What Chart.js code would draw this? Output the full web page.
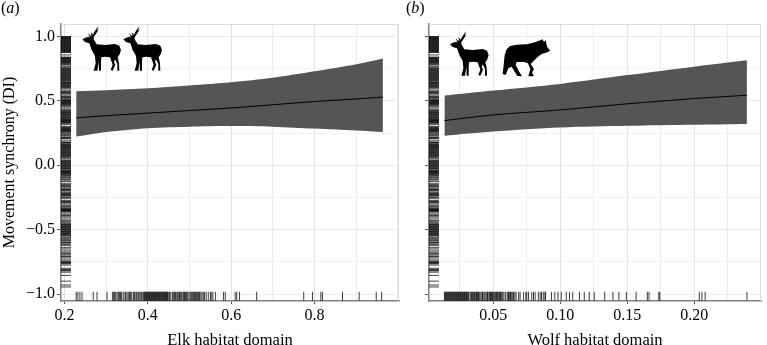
<!DOCTYPE html>
<html>
<head>
<meta charset="utf-8">
<title>Movement synchrony</title>
<script src="https://cdn.jsdelivr.net/npm/chart.js@4"></script>
<style>
    html, body { margin: 0; padding: 0; background: #fff; }
    #page { position: relative; width: 767px; height: 345px; overflow: hidden; }
    canvas { position: absolute; top: 0; }
    #chartA { left: 0; }
    #chartB { left: 405px; }
    .tag { position: absolute; top: -1px; font: 16px "Liberation Serif", serif; color: #000; }
    #icons { position: absolute; left: 0; top: 0; pointer-events: none; }
</style>
</head>
<body>
<div id="page">
    <canvas id="chartA" width="405" height="345"></canvas>
    <canvas id="chartB" width="362" height="345"></canvas>
    <span class="tag" style="left:1px">(<i>a</i>)</span>
    <span class="tag" style="left:406px">(<i>b</i>)</span>
    <svg id="icons" width="767" height="345" viewBox="0 0 767 345" aria-hidden="true">
        <defs>
            <path id="elk" d="M247 118 L256 113 L266 110 L270 112 L263 98 L270 106 L275 108 L272 96 L279 104 L283 96 L295 78 L291 93 L298 86 L286 104 L281 112 L281 118 L290 133 L315 135 L345 132 L358 137 L363 150 L359 163 L353 172 L357 190 L358 212 L352 212 L352 192 L345 178 L342 186 L346 194 L338 212 L332 210 L338 194 L330 172 L315 170 L304 172 L303 190 L303 212 L297 212 L296 185 L292 212 L281 212 L287 190 L285 168 L275 150 L268 130 L255 126 Z"/>
            <path id="wolf" d="M308 222 L311 195 L314 165 L320 148 L330 138 L350 134 L380 133 L405 127 L428 118 L432 127 L437 120 L441 140 L451 152 L438 158 L425 162 L412 172 L398 186 L392 192 L402 207 L396 218 L402 229 L385 229 L391 207 L384 190 L372 186 L350 186 L347 195 L356 212 L366 229 L352 228 L335 200 L325 205 L317 225 Z"/>
        </defs>
        <use href="#elk" transform="scale(0.3333)"/>
        <use href="#elk" transform="translate(41 0) scale(0.3333)"/>
        <use href="#elk" transform="translate(367.7 5) scale(0.3333)"/>
        <use href="#wolf" transform="translate(400 0) scale(0.3333)"/>
    </svg>
</div>
<script>
const yTicks = [1, 0.75, 0.5, 0.25, 0, -0.25, -0.5, -0.75, -1];
const yLabelled = [1, 0.5, 0, -0.5, -1];

const elkTicks = [0.2, 0.3, 0.4, 0.5, 0.6, 0.7, 0.8, 0.9, 1.0];
const elkLabelled = [0.2, 0.4, 0.6, 0.8];
const wolfTicks = [0.025, 0.05, 0.075, 0.1, 0.125, 0.15, 0.175, 0.2, 0.225];
const wolfLabelled = [0.05, 0.1, 0.15, 0.2];

// fitted curve and ribbon
const elkX = [0.228, 0.3, 0.4, 0.5, 0.6, 0.7, 0.8, 0.9, 0.964];
const elkUpper = [0.575, 0.583, 0.598, 0.62, 0.645, 0.68, 0.73, 0.785, 0.83];
const elkLower = [0.223, 0.258, 0.288, 0.3, 0.305, 0.3, 0.285, 0.27, 0.258];
const elkMean = [0.368, 0.385, 0.405, 0.425, 0.445, 0.47, 0.495, 0.515, 0.53];

const wolfX = [0.0135, 0.05, 0.1, 0.15, 0.2, 0.2393];
const wolfUpper = [0.541, 0.58, 0.632, 0.7, 0.766, 0.815];
const wolfLower = [0.229, 0.262, 0.293, 0.306, 0.314, 0.32];
const wolfMean = [0.347, 0.391, 0.43, 0.477, 0.518, 0.544];

// rug values: the DI rug is the same on both panels
const diRug = [
    1, 0.996, 0.992, 0.988, 0.984, 0.98, 0.976, 0.972, 0.968, 0.964, 0.96, 0.956, 0.952, 0.948, 0.944, 0.94,
    0.936, 0.932, 0.928, 0.924, 0.92, 0.916, 0.912, 0.908, 0.904, 0.9, 0.896, 0.892, 0.888, 0.884, 0.88, 0.876,
    0.857, 0.84, 0.836, 0.832, 0.828, 0.824, 0.82, 0.816, 0.812, 0.808, 0.804, 0.8, 0.796, 0.792, 0.786, 0.78, 0.77,
    0.762, 0.755, 0.75, 0.745, 0.74, 0.735, 0.73, 0.725, 0.72, 0.715, 0.71, 0.705,
    0.7, 0.695, 0.69, 0.685, 0.68, 0.675, 0.67, 0.665, 0.66, 0.655, 0.648, 0.644, 0.64, 0.635, 0.63, 0.625, 0.62,
    0.615, 0.61, 0.605, 0.6, 0.592, 0.578, 0.572, 0.566, 0.56, 0.555, 0.545, 0.535, 0.53, 0.525, 0.52,
    0.51, 0.505, 0.502, 0.498, 0.494, 0.49, 0.486, 0.482, 0.478, 0.475, 0.47, 0.465, 0.455, 0.445, 0.435,
    0.425, 0.42, 0.415, 0.41, 0.405, 0.4, 0.395, 0.39, 0.388, 0.38, 0.375, 0.37, 0.365, 0.36, 0.355, 0.352, 0.348,
    0.345, 0.34, 0.336, 0.332, 0.325, 0.315, 0.3, 0.295, 0.29, 0.285, 0.28, 0.278, 0.27, 0.268, 0.262, 0.255, 0.245,
    0.238, 0.23, 0.22, 0.215, 0.21, 0.205, 0.19, 0.18, 0.176, 0.172, 0.165, 0.16, 0.155, 0.15, 0.148, 0.143, 0.14,
    0.135, 0.13, 0.125, 0.12, 0.115, 0.11, 0.105, 0.1, 0.095, 0.09, 0.085, 0.08, 0.075, 0.07, 0.065, 0.058, 0.05,
    0.04, 0.035, 0.03, 0.025, 0.02, 0.015, 0.01, 0.005, 0, -0.005, -0.01, -0.015, -0.02, -0.025, -0.03,
    -0.038, -0.042, -0.046, -0.05, -0.054, -0.058, -0.062, -0.066, -0.072, -0.08, -0.085, -0.093, -0.1, -0.108, -0.115,
    -0.125, -0.14, -0.15, -0.158, -0.165, -0.175, -0.183, -0.188, -0.193, -0.198, -0.208,
    -0.215, -0.22, -0.225, -0.23, -0.235, -0.24, -0.25, -0.26, -0.275, -0.28, -0.285, -0.29, -0.3, -0.31, -0.318, -0.325,
    -0.333, -0.338, -0.342, -0.345, -0.349, -0.352, -0.356, -0.36, -0.37, -0.38, -0.39, -0.4, -0.41, -0.425, -0.432,
    -0.44, -0.448, -0.455, -0.46, -0.465, -0.47, -0.475, -0.48, -0.485, -0.49, -0.495, -0.5, -0.505, -0.51, -0.515,
    -0.52, -0.525, -0.53, -0.535, -0.54, -0.545, -0.55, -0.56, -0.57, -0.578, -0.585, -0.595, -0.6, -0.605, -0.615,
    -0.625, -0.64, -0.65, -0.665, -0.675, -0.685, -0.695, -0.705, -0.71, -0.72,
    -0.735, -0.745, -0.75, -0.755, -0.76, -0.765, -0.775, -0.8, -0.81, -0.815, -0.82, -0.83, -0.855, -0.9, -0.93, -0.945
];

const elkRug = [
    0.228, 0.232, 0.237, 0.242, 0.269, 0.278, 0.302, 0.315, 0.318, 0.32, 0.323, 0.326, 0.329, 0.331, 0.333, 0.335, 0.337,
    0.341, 0.345, 0.347, 0.35, 0.353, 0.356, 0.358, 0.361, 0.365, 0.367, 0.369, 0.372, 0.374, 0.377, 0.379, 0.382, 0.385,
    0.388, 0.39,
    0.392, 0.3935, 0.395, 0.3965, 0.398, 0.3995, 0.401, 0.4025, 0.404, 0.4055, 0.407, 0.4085, 0.41, 0.4115, 0.413,
    0.4145, 0.416, 0.4175, 0.419, 0.4205, 0.422, 0.4235, 0.425, 0.4265, 0.428, 0.4295, 0.431, 0.4325, 0.434, 0.4355,
    0.437, 0.4385, 0.44, 0.4415, 0.443, 0.4445, 0.446,
    0.447, 0.449, 0.452, 0.455, 0.459, 0.461, 0.464, 0.466, 0.468, 0.471, 0.474, 0.476, 0.478, 0.481, 0.484, 0.486, 0.488,
    0.49, 0.492, 0.494, 0.496, 0.499, 0.502, 0.505, 0.507, 0.51, 0.512, 0.514, 0.516, 0.518, 0.52,
    0.522, 0.524, 0.527, 0.53, 0.533, 0.536, 0.54, 0.545, 0.55, 0.552, 0.556, 0.562, 0.5816, 0.5857, 0.6096, 0.6134,
    0.62, 0.661, 0.774, 0.795, 0.815, 0.819, 0.867, 0.907, 0.948, 0.961
];

const wolfRug = [
    0.0135, 0.014, 0.0145, 0.015, 0.0155, 0.016, 0.0165, 0.017, 0.0175, 0.018, 0.0185, 0.019, 0.0195, 0.02, 0.0205,
    0.021, 0.0215, 0.022, 0.0225, 0.023, 0.0235, 0.024, 0.0245, 0.025, 0.0255, 0.026, 0.0265, 0.027, 0.0275, 0.028,
    0.0285, 0.029, 0.0295, 0.03, 0.0305, 0.031, 0.0315,
    0.0326, 0.0332, 0.0338, 0.0345, 0.0353, 0.0358, 0.0363, 0.037, 0.0375, 0.038, 0.0385, 0.039, 0.0398, 0.0407, 0.0415,
    0.042, 0.0424, 0.0435, 0.0444, 0.0452, 0.0457, 0.0461, 0.047, 0.0475, 0.048, 0.0485, 0.049, 0.0495,
    0.05, 0.051, 0.0515, 0.0522, 0.0527, 0.053, 0.0537, 0.0545, 0.0549, 0.0554, 0.0562, 0.057, 0.0579, 0.059, 0.0603,
    0.061, 0.0615, 0.062, 0.0628, 0.0635, 0.0645, 0.065, 0.066, 0.067, 0.0689, 0.07, 0.0726, 0.0743, 0.075,
    0.0763, 0.0787, 0.08, 0.0812, 0.0836, 0.085, 0.086, 0.0873, 0.0885, 0.089, 0.0934, 0.0959, 0.0983, 0.1007, 0.1044,
    0.1069, 0.1093, 0.1143, 0.1179, 0.1216, 0.1253, 0.1331, 0.1393, 0.1437, 0.1493, 0.1566, 0.165, 0.1662, 0.1735,
    0.1743, 0.2037, 0.2057, 0.2081, 0.2393
];

const serif = '"Liberation Serif", serif';
const RUG_COLOR = 'rgba(0, 0, 0, 0.75)';

// light frame on the top and right of each panel
const panelEdges = {
    id: 'panelEdges',
    afterDraw(chart) {
        const { ctx, chartArea: a } = chart;
        ctx.save();
        ctx.strokeStyle = '#dcdcdc';
        ctx.lineWidth = 1;
        ctx.beginPath();
        ctx.moveTo(a.left, a.top + 0.5);
        ctx.lineTo(a.right - 0.5, a.top + 0.5);
        ctx.lineTo(a.right - 0.5, a.bottom);
        ctx.stroke();
        ctx.restore();
    }
};

function ribbonDatasets(xs, upper, lower, mean) {
    const toPoints = (ys) => xs.map((x, i) => ({ x: x, y: ys[i] }));
    return [
        { data: toPoints(upper), showLine: true, tension: 0.3, fill: '+1', backgroundColor: '#555555', borderWidth: 0, pointRadius: 0, order: 2 },
        { data: toPoints(lower), showLine: true, tension: 0.3, fill: false, borderWidth: 0, pointRadius: 0, order: 2 },
        { data: toPoints(mean), showLine: true, tension: 0.3, fill: false, borderColor: '#000', borderWidth: 1, pointRadius: 0, order: 1 }
    ];
}

function rugDatasets(xRug, diAnchorX) {
    return [
        {
            data: xRug.map((x) => ({ x: x, y: -1.017 })),
            pointStyle: 'line', pointRotation: 90, pointRadius: 4.5,
            pointBorderColor: RUG_COLOR, pointBorderWidth: 1, order: 3
        },
        {
            data: diRug.map((y) => ({ x: diAnchorX, y: y })),
            pointStyle: 'line', pointRotation: 0, pointRadius: 5,
            pointBorderColor: RUG_COLOR, pointBorderWidth: 1, order: 3
        }
    ];
}

function makePanel(id, cfg) {
    const isLabelled = (list, v) => list.some((t) => Math.abs(t - v) < 1e-9);
    return new Chart(document.getElementById(id), {
        type: 'scatter',
        data: { datasets: ribbonDatasets(cfg.xs, cfg.upper, cfg.lower, cfg.mean).concat(rugDatasets(cfg.rug, cfg.anchorX)) },
        plugins: [panelEdges],
        options: {
            responsive: false,
            animation: false,
            events: [],
            layout: { padding: { top: 24, right: cfg.rightPad, bottom: 0, left: 0 } },
            plugins: { legend: { display: false }, tooltip: { enabled: false } },
            scales: {
                x: {
                    type: 'linear',
                    min: cfg.xMin,
                    max: cfg.xMax,
                    afterBuildTicks: (scale) => { scale.ticks = cfg.xTicks.map((v) => ({ value: v })); },
                    afterFit: (scale) => { scale.height = 44; },
                    border: { color: '#808080', width: 1.5 },
                    grid: {
                        color: (c) => (c.tick && isLabelled(cfg.xLabelled, c.tick.value) ? '#e2e2e2' : '#ececec'),
                        tickColor: (c) => (c.tick && isLabelled(cfg.xLabelled, c.tick.value) ? '#555' : 'rgba(0,0,0,0)'),
                        tickLength: 3
                    },
                    ticks: {
                        autoSkip: false,
                        maxRotation: 0,
                        padding: 2,
                        color: '#000',
                        font: { family: serif, size: 16 },
                        callback: (v) => (isLabelled(cfg.xLabelled, v) ? v.toFixed(cfg.digits) : '')
                    },
                    title: {
                        display: true,
                        text: cfg.xTitle,
                        color: '#000',
                        font: { family: serif, size: 16.5 },
                        padding: { top: 0, bottom: -6 }
                    }
                },
                y: {
                    min: -1.054,
                    max: 1.097,
                    afterBuildTicks: (scale) => { scale.ticks = yTicks.map((v) => ({ value: v })); },
                    afterFit: (scale) => { scale.width = cfg.yWidth; },
                    border: { color: '#808080', width: 1.5 },
                    grid: {
                        color: (c) => (c.tick && isLabelled(yLabelled, c.tick.value) ? '#ebebeb' : '#f2f2f2'),
                        tickColor: (c) => (c.tick && isLabelled(yLabelled, c.tick.value) ? '#555' : 'rgba(0,0,0,0)'),
                        tickLength: 4
                    },
                    ticks: {
                        autoSkip: false,
                        padding: 2,
                        color: '#000',
                        font: { family: serif, size: 16 },
                        callback: (v) => {
                            if (!cfg.yText || !isLabelled(yLabelled, v)) return '';
                            return (v < 0 ? '\u2212' : '') + Math.abs(v).toFixed(1);
                        }
                    },
                    title: {
                        display: cfg.yText,
                        text: 'Movement synchrony (DI)',
                        color: '#000',
                        font: { family: serif, size: 16 },
                        padding: { top: 0, bottom: 0 }
                    }
                }
            }
        }
    });
}

makePanel('chartA', {
    xs: elkX, upper: elkUpper, lower: elkLower, mean: elkMean, rug: elkRug,
    anchorX: 0.2036, xMin: 0.1916, xMax: 1.0026,
    xTicks: elkTicks, xLabelled: elkLabelled, digits: 1,
    xTitle: 'Elk habitat domain', yWidth: 61, yText: true, rightPad: 5
});

makePanel('chartB', {
    xs: wolfX, upper: wolfUpper, lower: wolfLower, mean: wolfMean, rug: wolfRug,
    anchorX: 0.0057, xMin: 0.002, xMax: 0.2498,
    xTicks: wolfTicks, xLabelled: wolfLabelled, digits: 2,
    xTitle: 'Wolf habitat domain', yWidth: 24, yText: false, rightPad: 1
});
</script>
</body>
</html>
